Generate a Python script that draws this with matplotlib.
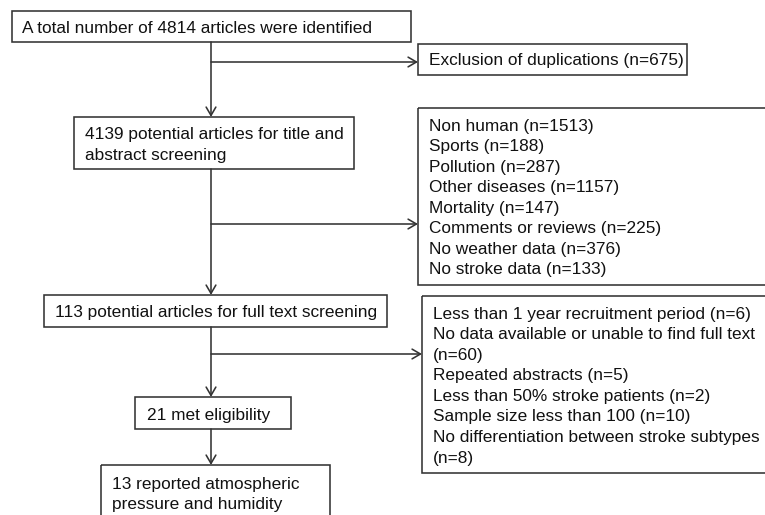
import matplotlib
matplotlib.use("Agg")
import matplotlib.pyplot as plt
from matplotlib.patches import Rectangle, FancyArrowPatch

plt.rcParams['font.family'] = ['Liberation Sans', 'DejaVu Sans']

# flowchart text
identified = ["A total number of 4814 articles were identified"]
duplicates = ["Exclusion of duplications (n=675)"]
screening = ["4139 potential articles for title and", "abstract screening"]
excluded_title = ["Non human (n=1513)", "Sports (n=188)", "Pollution (n=287)",
                  "Other diseases (n=1157)", "Mortality (n=147)",
                  "Comments or reviews (n=225)", "No weather data (n=376)",
                  "No stroke data (n=133)"]
fulltext = ["113 potential articles for full text screening"]
excluded_full = ["Less than 1 year recruitment period (n=6)",
                 "No data available or unable to find full text",
                 "(n=60)", "Repeated abstracts (n=5)",
                 "Less than 50% stroke patients (n=2)",
                 "Sample size less than 100 (n=10)",
                 "No differentiation between stroke subtypes",
                 "(n=8)"]
eligible = ["21 met eligibility"]
reported = ["13 reported atmospheric", "pressure and humidity"]

W, H = 765, 515
fig = plt.figure(figsize=(W / 100, H / 100), dpi=100)
ax = fig.add_axes([0, 0, 1, 1])
ax.set_xlim(0, W)
ax.set_ylim(H, 0)
ax.axis('off')

edge = '#333333'
lw = 1.15
fs = 12.4


def box(x0, y0, x1, y1, lines, tx, base, step=20.5):
    ax.add_patch(Rectangle((x0, y0), x1 - x0, y1 - y0, fill=False,
                           edgecolor=edge, linewidth=lw, clip_on=False))
    for i, s in enumerate(lines):
        ax.text(tx, base + i * step, s, fontsize=fs, color='#111111',
                ha='left', va='baseline')


def arrow(x0, y0, x1, y1):
    ax.add_patch(FancyArrowPatch((x0, y0), (x1, y1),
                                 arrowstyle='->,head_length=0.6,head_width=0.35',
                                 mutation_scale=10, color=edge, linewidth=lw,
                                 shrinkA=0, shrinkB=0))


trunk = 211

box(12, 11, 411, 42, identified, 22, 33)
box(418, 44, 687, 75, duplicates, 429, 65)
box(74, 117, 354, 169, screening, 85, 139.5)
box(418, 108, 800, 285, excluded_title, 429, 130.7)
box(44, 295, 387, 327, fulltext, 55, 317.3)
box(422, 296, 800, 473, excluded_full, 433, 318.5, 20.6)
box(135, 397, 291, 429, eligible, 147, 420)
box(101, 465, 330, 530, reported, 112, 488.5)

# vertical flow
arrow(trunk, 42, trunk, 117)
arrow(trunk, 169, trunk, 295)
arrow(trunk, 327, trunk, 397)
arrow(trunk, 429, trunk, 465)

# side exclusions
arrow(trunk, 62, 418, 62)
arrow(trunk, 224, 418, 224)
arrow(trunk, 354, 422, 354)

fig.savefig("out.png", dpi=100)
